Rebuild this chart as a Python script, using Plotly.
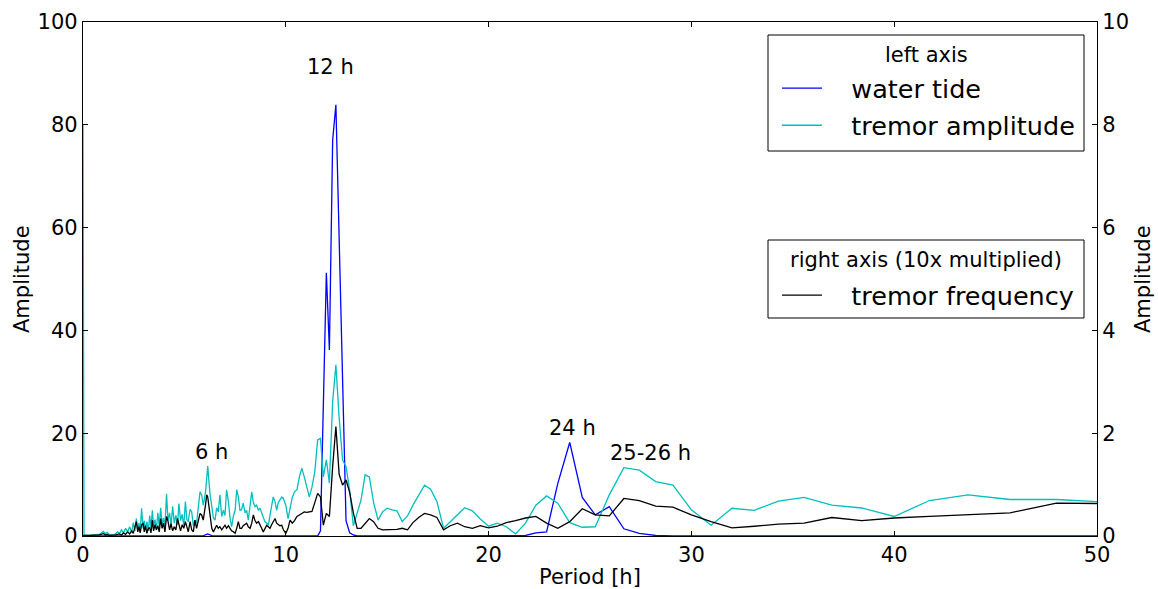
import plotly.graph_objects as go

# ---------------- data ----------------
# dense short-period part (0-10 h), shared by tremor amplitude / frequency
period_lo = [0.0, 0.05, 0.3, 0.6, 0.8, 0.9, 1.0, 1.1, 1.2, 1.3, 1.5, 1.6, 1.7, 1.8, 1.9,
             2.0, 2.1, 2.2, 2.3, 2.4, 2.48, 2.56, 2.63, 2.7, 2.76, 2.82, 2.89, 2.96,
             3.02, 3.08, 3.15, 3.22, 3.29, 3.35, 3.42, 3.48, 3.55, 3.62, 3.69, 3.76,
             3.83, 3.9, 3.97, 4.04, 4.12, 4.19, 4.27, 4.34, 4.42, 4.5, 4.58, 4.66,
             4.73, 4.81, 4.89, 4.97, 5.05, 5.12, 5.19, 5.28, 5.36, 5.44, 5.52, 5.6,
             5.68, 5.77, 5.85, 5.93, 6.04, 6.1, 6.15, 6.26, 6.35, 6.43, 6.51, 6.59,
             6.67, 6.75, 6.84, 6.92, 7.0, 7.08, 7.17, 7.25, 7.33, 7.42, 7.5, 7.58,
             7.66, 7.74, 7.82, 7.9, 7.99, 8.07, 8.15, 8.24, 8.32, 8.4, 8.48, 8.56,
             8.65, 8.73, 8.81, 8.89, 8.97, 9.06, 9.14, 9.22, 9.3, 9.38, 9.47, 9.55,
             9.63, 9.71, 9.8, 9.88]

tremor_amp_lo = [80, 0.2, 0.1, 0.2, 0.3, 0.6, 0.9, 0.5, 0.7, 0.2, 0.2, 0.4, 0.8, 0.5, 1.2,
                 0.6, 1.5, 0.8, 1.8, 0.7, 2.6, 1.0, 3.4, 1.2, 2.5, 1.0, 5.4, 1.5,
                 3.0, 1.2, 2.8, 1.0, 4.0, 1.6, 5.0, 2.0, 3.2, 1.2, 4.5, 2.0,
                 5.5, 2.2, 3.5, 1.8, 8.2, 3.0, 4.5, 2.0, 5.8, 2.5, 4.0, 2.2,
                 6.3, 3.0, 4.2, 2.0, 6.7, 3.2, 2.8, 5.2, 4.7, 2.0, 3.1, 2.5,
                 5.0, 8.6, 8.0, 6.0, 8.5, 11.0, 13.6, 8.3, 5.4, 3.5, 3.1, 5.5,
                 4.7, 8.0, 3.8, 5.0, 4.0, 9.0, 6.7, 3.5, 1.8, 4.0, 5.0, 9.0,
                 7.6, 5.0, 5.1, 6.4, 4.5, 5.0, 3.1, 6.0, 8.6, 6.5, 5.7, 6.0,
                 5.0, 5.4, 4.4, 3.5, 2.8, 2.5, 2.1, 4.0, 5.5, 7.6, 6.7, 5.0,
                 6.5, 7.0, 7.6, 7.3]

tremor_freq_lo = [0.00, 0.01, 0.01, 0.01, 0.02, 0.03, 0.05, 0.02, 0.03, 0.01, 0.01, 0.02, 0.03, 0.04, 0.02,
                  0.06, 0.03, 0.08, 0.04, 0.10, 0.05, 0.18, 0.28, 0.08, 0.18, 0.06, 0.22, 0.25,
                  0.08, 0.20, 0.05, 0.15, 0.16, 0.06, 0.31, 0.10, 0.22, 0.12, 0.20, 0.08,
                  0.34, 0.15, 0.25, 0.08, 0.38, 0.29, 0.12, 0.24, 0.10, 0.18, 0.12, 0.34,
                  0.20, 0.10, 0.22, 0.15, 0.28, 0.15, 0.08, 0.28, 0.12, 0.08, 0.31, 0.15,
                  0.30, 0.44, 0.41, 0.31, 0.60, 0.80, 0.76, 0.38, 0.15, 0.08, 0.15, 0.21,
                  0.15, 0.18, 0.12, 0.16, 0.21, 0.15, 0.20, 0.15, 0.10, 0.08, 0.05, 0.15,
                  0.28, 0.15, 0.15, 0.20, 0.22, 0.25, 0.18, 0.15, 0.25, 0.41, 0.30, 0.25,
                  0.28, 0.20, 0.15, 0.08, 0.15, 0.21, 0.18, 0.15, 0.22, 0.28, 0.34, 0.25,
                  0.22, 0.20, 0.21, 0.12]

period_lo_tide = [0.05, 1.0, 2.0, 3.0, 4.0, 5.0, 5.9, 6.15, 6.4, 7.0, 8.0, 9.0, 9.88]
water_tide_lo = [0, 0, 0, 0, 0, 0, 0, 0.4, 0, 0, 0, 0, 0]

# longer-period part (10-50 h)
period_hi = [10.0, 10.11, 10.21, 10.32, 10.43, 10.55, 10.67, 10.79, 10.91, 11.03, 11.16,
             11.29, 11.43, 11.57, 11.71, 11.85, 12.0, 12.15, 12.31, 12.47, 12.63, 12.8,
             12.97, 13.15, 13.33, 13.52, 13.71, 13.91, 14.12, 14.33, 14.55, 14.77, 15.0,
             15.24, 15.48, 15.74, 16.0, 16.27, 16.55, 16.84, 17.14, 17.45, 17.78, 18.11,
             18.46, 18.82, 19.2, 19.59, 20.0, 20.43, 20.87, 21.33, 21.82, 22.33, 22.86,
             23.41, 24.0, 24.62, 25.26, 25.95, 26.67, 27.43, 28.24, 29.09, 30.0, 30.97,
             32.0, 33.1, 34.29, 35.56, 36.92, 38.4, 40.0, 41.74, 43.64, 45.71, 48.0, 50.53]

tremor_amp_hi = [6.0, 3.4, 5.5, 7.5, 8.6, 9.0, 11.5, 13.2, 11.5, 9.5, 7.6,
                 9.5, 12.5, 18.7, 19.0, 11.5, 14.8, 10.3, 26.1, 33.3, 23.0, 14.8,
                 13.5, 8.9, 2.0, 4.5, 7.0, 11.9, 11.5, 6.5, 3.1, 4.7, 5.4,
                 5.1, 4.9, 2.8, 3.9, 6.0, 8.0, 9.9, 9.1, 6.7, 1.5, 2.8,
                 4.0, 5.5, 4.9, 3.3, 1.9, 2.5, 1.8, 0.4, 2.5, 6.0, 7.8,
                 6.4, 2.6, 1.7, 1.8, 8.0, 13.3, 12.8, 10.6, 9.9, 5.1, 2.1,
                 5.4, 5.0, 6.8, 7.5, 6.0, 5.45, 3.8, 6.9, 8.0, 7.1, 7.1, 6.6]

tremor_freq_hi = [0.05, 0.15, 0.31, 0.25, 0.30, 0.38, 0.41, 0.44, 0.47, 0.46, 0.47,
                  0.48, 0.65, 0.83, 0.76, 0.21, 0.44, 0.38, 1.35, 2.13, 1.20, 0.99,
                  1.09, 0.85, 0.45, 0.15, 0.15, 0.25, 0.34, 0.28, 0.15, 0.12, 0.12,
                  0.12, 0.13, 0.15, 0.12, 0.26, 0.36, 0.44, 0.41, 0.36, 0.12, 0.20,
                  0.25, 0.18, 0.15, 0.20, 0.16, 0.19, 0.26, 0.30, 0.35, 0.38, 0.25,
                  0.15, 0.28, 0.53, 0.41, 0.39, 0.73, 0.69, 0.58, 0.56, 0.41, 0.28,
                  0.16, 0.19, 0.23, 0.25, 0.36, 0.30, 0.35, 0.38, 0.41, 0.45, 0.64, 0.63]

water_tide_hi = [0, 0, 0, 0, 0, 0, 0, 0, 0, 0, 0,
                 0, 0, 0, 1.0, 26.0, 51.2, 36.2, 77.0, 83.9, 58.0, 30.0,
                 3.0, 0.6, 0.2, 0, 0, 0, 0, 0, 0, 0, 0,
                 0, 0, 0, 0, 0, 0, 0, 0, 0, 0, 0,
                 0, 0, 0, 0, 0, 0, 0, 0, 0.1, 0.6, 0.8,
                 10.2, 18.2, 7.5, 4.1, 5.7, 1.4, 0.5, 0.1, 0, 0, 0,
                 0, 0, 0, 0, 0, 0, 0, 0, 0, 0, 0, 0]

peak_labels = ["6 h", "12 h", "24 h", "25-26 h"]
peak_label_x = [6.36, 12.18, 24.16, 28.0]
peak_label_y = [16.3, 91.2, 21.0, 16.1]

x_ticks = [0, 10, 20, 30, 40, 50]
y_ticks = [0, 20, 40, 60, 80, 100]
y2_ticks = [0, 2, 4, 6, 8, 10]

assert len(period_lo) == len(tremor_amp_lo) == len(tremor_freq_lo)
assert len(period_hi) == len(tremor_amp_hi) == len(tremor_freq_hi) == len(water_tide_hi)

FONT = "DejaVu Sans"
W, H = 1158, 589
ML, MR, MT, MB = 83, 61, 22, 53
PW, PH = W - ML - MR, H - MT - MB


def px(xp):  # pixel x -> paper x
    return (xp - ML) / PW


def py(yp):  # pixel y -> paper y
    return (H - MB - yp) / PH


NB = "\u00a0"

fig = go.Figure()
fig.add_trace(go.Scatter(x=period_lo_tide + period_hi, y=water_tide_lo + water_tide_hi,
                         mode="lines", name=NB * 3 + "water tide", legendgroup="a",
                         line=dict(color="#0000ff", width=1.3), legend="legend"))
fig.add_trace(go.Scatter(x=period_lo + period_hi, y=tremor_amp_lo + tremor_amp_hi,
                         mode="lines", name=NB * 3 + "tremor amplitude", legendgroup="b",
                         line=dict(color="#00bfbf", width=1.3), legend="legend"))
fig.add_trace(go.Scatter(x=period_lo + period_hi, y=tremor_freq_lo + tremor_freq_hi,
                         mode="lines", name=NB * 3 + "tremor frequency", legendgroup="c",
                         line=dict(color="#000000", width=1.3), yaxis="y2", legend="legend2"))

ann_common = dict(showarrow=False, xanchor="center", yanchor="middle")

for t, xx, yy in zip(peak_labels, peak_label_x, peak_label_y):
    fig.add_annotation(x=xx, y=yy, xref="x", yref="y", text=t,
                       font=dict(family=FONT, size=21, color="black"), **ann_common)

# axis titles
fig.add_annotation(x=px(590), y=py(577), xref="paper", yref="paper", text="Period [h]",
                   font=dict(family=FONT, size=21, color="black"), **ann_common)
fig.add_annotation(x=px(22), y=py(279), xref="paper", yref="paper", text="Amplitude",
                   textangle=-90, font=dict(family=FONT, size=21, color="black"), **ann_common)
fig.add_annotation(x=px(1143), y=py(279), xref="paper", yref="paper", text="Amplitude",
                   textangle=-90, font=dict(family=FONT, size=21, color="black"), **ann_common)

# legend frames and titles
fig.add_shape(type="rect", xref="paper", yref="paper", x0=px(768), x1=px(1084),
              y0=py(151), y1=py(35), line=dict(color="black", width=1), fillcolor="white",
              layer="above")
fig.add_shape(type="rect", xref="paper", yref="paper", x0=px(768), x1=px(1084),
              y0=py(318), y1=py(240), line=dict(color="black", width=1), fillcolor="white",
              layer="above")
fig.add_annotation(x=px(926), y=py(55), xref="paper", yref="paper", text="left axis",
                   font=dict(family=FONT, size=21, color="black"), **ann_common)
fig.add_annotation(x=px(926), y=py(260), xref="paper", yref="paper",
                   text="right axis (10x multiplied)",
                   font=dict(family=FONT, size=21, color="black"), **ann_common)

axis_common = dict(showline=True, linecolor="black", linewidth=1.2, ticks="inside",
                   ticklen=5, tickcolor="black", showgrid=False, zeroline=False,
                   automargin=False,
                   tickfont=dict(family=FONT, size=21, color="black"))

legend_common = dict(xanchor="left", yanchor="top", borderwidth=0,
                     bgcolor="rgba(0,0,0,0)", font=dict(family=FONT, size=25.5),
                     itemwidth=40, tracegroupgap=1)

fig.update_layout(
    width=W, height=H,
    margin=dict(l=ML, r=MR, t=MT, b=MB, autoexpand=False),
    paper_bgcolor="white", plot_bgcolor="white",
    font=dict(family=FONT, color="black"),
    xaxis=dict(range=[0, 50], tickvals=x_ticks, mirror="ticks", **axis_common),
    yaxis=dict(range=[0, 100], tickvals=y_ticks, mirror=True, **axis_common),
    yaxis2=dict(range=[0, 10], tickvals=y2_ticks, overlaying="y", side="right",
                **axis_common),
    legend=dict(x=px(777), y=py(65), **legend_common),
    legend2=dict(x=px(777), y=py(272), **legend_common),
    showlegend=True,
)

fig.write_html("out.html", config={"displayModeBar": False},
               post_script="document.body.style.margin='0';document.body.style.padding='0';")
